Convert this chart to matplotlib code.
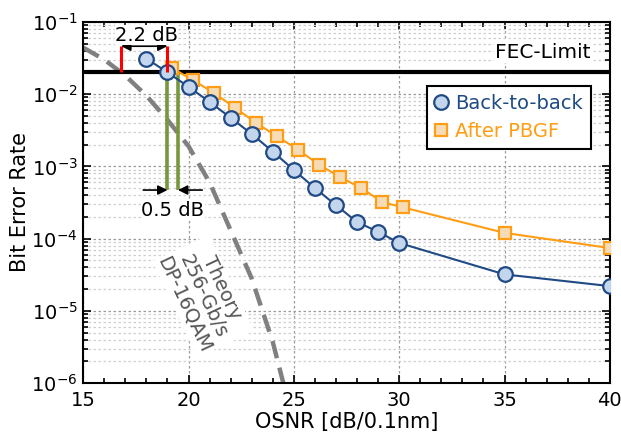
import numpy as np
import matplotlib
matplotlib.use('Agg')
import matplotlib.pyplot as plt
from matplotlib.ticker import LogLocator, MultipleLocator, NullFormatter

plt.rcParams['font.family'] = ['DejaVu Sans']

# measured back-to-back
osnr_b2b = [18, 19, 20, 21, 22, 23, 24, 25, 26, 27, 28, 29, 30, 35, 40]
ber_b2b = [3.1e-2, 2.0e-2, 1.26e-2, 7.8e-3, 4.7e-3, 2.8e-3, 1.6e-3, 8.9e-4,
           5.0e-4, 2.9e-4, 1.7e-4, 1.24e-4, 8.7e-5, 3.2e-5, 2.2e-5]

# after PBGF
osnr_pbgf = [19.2, 20.2, 21.2, 22.2, 23.2, 24.2, 25.2, 26.2, 27.2, 28.2, 29.2, 30.2, 35, 40]
ber_pbgf = [2.3e-2, 1.57e-2, 1.04e-2, 6.5e-3, 4.0e-3, 2.6e-3, 1.7e-3, 1.05e-3,
            7.1e-4, 5.0e-4, 3.2e-4, 2.7e-4, 1.2e-4, 7.4e-5]

# theory 256-Gb/s DP-16QAM
osnr_th = [15, 16, 17, 18, 19, 20, 21, 22, 23, 24, 24.5]
ber_th = [4.4e-2, 3.0e-2, 1.8e-2, 9.5e-3, 4.4e-3, 1.9e-3, 6.0e-4, 1.3e-4,
          2.8e-5, 3.7e-6, 1.0e-6]

fec_limit = 2e-2

blue = '#1f4a85'
blue_fill = '#c3d6ee'
orange = '#ff9d14'
orange_fill = '#f6dcb6'

fig = plt.figure(figsize=(6.21, 4.46), dpi=100)
ax = fig.add_axes([0.134, 0.141, 0.848, 0.810])

ax.set_yscale('log')
ax.set_xlim(15, 40)
ax.set_ylim(1e-6, 1e-1)

ax.grid(True, which='major', axis='both', color='#9a9a9a', linestyle=(0, (2, 2)), lw=0.9)
ax.grid(True, which='minor', axis='y', color='#cfcfcf', linestyle=(0, (2, 2)), lw=0.9)
ax.set_axisbelow(True)

ax.plot(osnr_th, ber_th, color='#808080', lw=3.2, ls=(0, (4, 2.2)), zorder=2)

ax.axhline(fec_limit, color='black', lw=3, zorder=3)
ax.text(39.1, 3.8e-2, 'FEC-Limit', fontsize=14.5, ha='right', va='center',
        bbox=dict(facecolor='white', edgecolor='none', pad=1), zorder=3)

ax.plot(osnr_b2b, ber_b2b, '-o', color=blue, lw=1.5, ms=10.5, mew=1.6,
        mfc=blue_fill, mec=blue, label='Back-to-back', zorder=5)
ax.plot(osnr_pbgf, ber_pbgf, '-s', color=orange, lw=1.5, ms=9, mew=1.6,
        mfc=orange_fill, mec=orange, label='After PBGF', zorder=4)

# 2.2 dB annotation
ax.vlines([16.8, 19.0], fec_limit, 4.7e-2, color='red', lw=2.2, zorder=6)
ax.annotate('', xy=(16.8, 4.6e-2), xytext=(19.0, 4.6e-2),
            arrowprops=dict(arrowstyle='<|-|>', color='black', lw=1.2,
                            mutation_scale=14, shrinkA=0, shrinkB=0), zorder=6)
ax.text(18.0, 6.5e-2, '2.2 dB', fontsize=14, ha='center', va='center',
        bbox=dict(facecolor='white', edgecolor='none', pad=0.3), zorder=6)

# 0.5 dB annotation
ax.vlines([19.0, 19.5], 4.7e-4, fec_limit, color='#77973d', lw=2.6, zorder=3)
ax.annotate('', xy=(19.0, 4.7e-4), xytext=(17.85, 4.7e-4),
            arrowprops=dict(arrowstyle='-|>', color='black', lw=1.2,
                            mutation_scale=14, shrinkA=0, shrinkB=0), zorder=6)
ax.annotate('', xy=(19.5, 4.7e-4), xytext=(20.65, 4.7e-4),
            arrowprops=dict(arrowstyle='-|>', color='black', lw=1.2,
                            mutation_scale=14, shrinkA=0, shrinkB=0), zorder=6)
ax.text(19.25, 2.45e-4, '0.5 dB', fontsize=14, ha='center', va='center',
        bbox=dict(facecolor='white', edgecolor='none', pad=0.3), zorder=6)

ax.text(20.7, 1.6e-5, 'Theory\n256-Gb/s\nDP-16QAM', fontsize=14, color='#555555',
        ha='center', va='center', rotation=-65, rotation_mode='anchor',
        multialignment='center', linespacing=1.1,
        bbox=dict(facecolor='white', edgecolor='none', pad=1), zorder=3)

ax.xaxis.set_major_locator(MultipleLocator(5))
ax.xaxis.set_minor_locator(MultipleLocator(1))
ax.yaxis.set_major_locator(LogLocator(base=10, numticks=10))
ax.yaxis.set_minor_locator(LogLocator(base=10, subs=np.arange(2, 10), numticks=10))
ax.yaxis.set_minor_formatter(NullFormatter())

ax.tick_params(which='both', direction='in', top=True, right=True, labelsize=14, width=1.2)
ax.tick_params(which='major', length=6)
ax.tick_params(which='minor', length=3.5)
ax.tick_params(axis='x', which='major', pad=6)
ax.tick_params(axis='y', which='major', pad=4)
for s in ax.spines.values():
    s.set_linewidth(1.5)

ax.set_xlabel('OSNR [dB/0.1nm]', fontsize=15, labelpad=1)
ax.set_ylabel('Bit Error Rate', fontsize=15, labelpad=1)

leg = ax.legend(loc='upper right', bbox_to_anchor=(0.964, 0.823), borderaxespad=0,
                fontsize=14, fancybox=False, framealpha=1, edgecolor='black',
                handlelength=0.6, handletextpad=0.45, borderpad=0.4, labelspacing=0.5)
leg.get_frame().set_linewidth(1.5)
for line, txt in zip(leg.get_lines(), leg.get_texts()):
    txt.set_color(line.get_color())
for h in leg.legend_handles:
    h.set_linestyle('none')

fig.savefig('out.png', dpi=100)
